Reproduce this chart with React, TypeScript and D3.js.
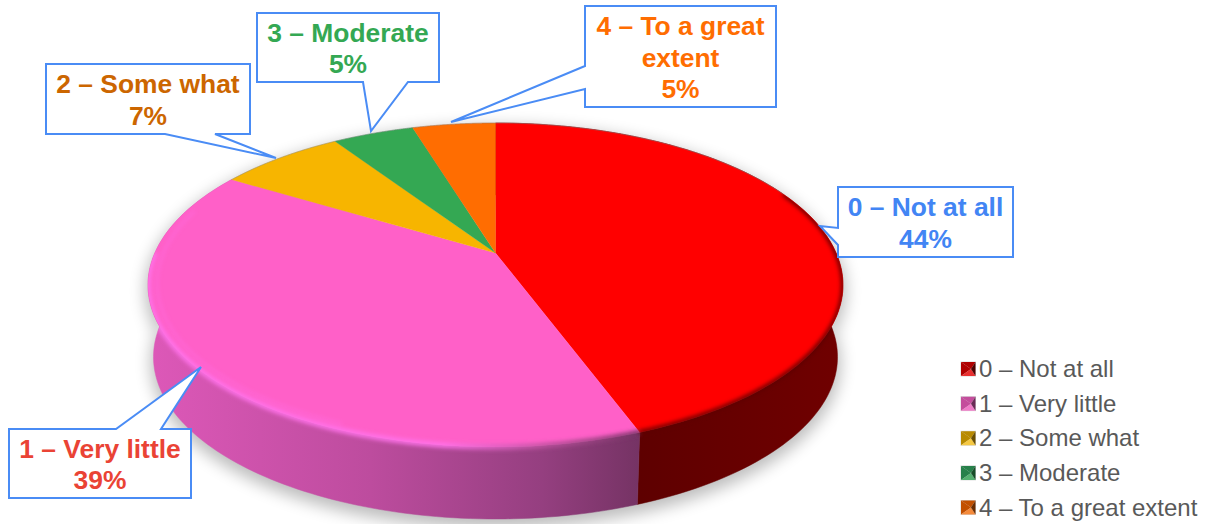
import React from "react";
import * as d3 from "d3";

const categories = ["0 – Not at all", "1 – Very little", "2 – Some what", "3 – Moderate", "4 – To a great extent"];
const values = [44.4, 39.3, 7.05, 4.58, 4.67];
const sliceColors = ["#ff0000", "#ff60c8", "#f7b500", "#34a853", "#ff6d01"];
const swatchLight = ["#e83030", "#f07cc8", "#f5c842", "#55b070", "#f58a3a"];
const swatchDark = ["#4d0000", "#6a2a55", "#6a4e00", "#174d28", "#6a2c00"];
const swatchMid = ["#b00000", "#c44d9c", "#b88a00", "#27804a", "#c25000"];
const calloutLines = [
  ["0 – Not at all", "44%"],
  ["1 – Very little", "39%"],
  ["2 – Some what", "7%"],
  ["3 – Moderate", "5%"],
  ["4 – To a great", "extent", "5%"],
];
const calloutColors = ["#4285f4", "#ea4335", "#cc6600", "#34a853", "#ff6d01"];
const calloutBoxes = [
  [838, 187, 1013, 257],
  [9, 429, 191, 498],
  [46, 64, 250, 134],
  [257, 13, 439, 82],
  [585, 6, 776, 107],
];
const calloutPointers = [
  [[838, 228], [820, 226], [838, 245]],
  [[116, 429], [201, 367], [161, 429]],
  [[215, 134], [276, 158], [165, 134]],
  [[408, 82], [371, 131], [363, 82]],
  [[585, 89], [451, 122], [585, 66]],
];

const W = 1212, H = 524;
const CX = 495.5, CY = 285, RX = 347.5, RY = 162, CENTER_UP = 32, DEPTH = 72, BOTTOM_RX = 342;
const P = (2 * CENTER_UP) / (2 * RY);

// Perspective projection of a point on the pie rim; a is clockwise from the far side.
function rim(a: number, r = 1, rx = RX, dy = 0): [number, number] {
  const u = r * Math.sin(a), v = r * Math.cos(a);
  const d = 1 + P * v;
  const S = rx * Math.sqrt(1 - P * P);
  return [CX + (S * u) / d, CY + dy - (RY * v + CENTER_UP) / d];
}
const arcAngles = (a0: number, a1: number) => d3.range(0, 121).map((i) => a0 + ((a1 - a0) * i) / 120);
const line = d3.line();

const pieGen = d3.pie<number>().sort(null).value((d) => d);
const slices = pieGen(values);

function topPath(a0: number, a1: number) {
  return line([rim(0, 0), ...arcAngles(a0, a1).map((a) => rim(a))]) + "Z";
}
function wallPath(a0: number, a1: number) {
  const ang = arcAngles(a0, a1);
  return line([...ang.map((a) => rim(a)), ...ang.slice().reverse().map((a) => rim(a, 1, BOTTOM_RX, DEPTH))]) + "Z";
}
function rimStroke(a0: number, a1: number, r = 1) {
  return line(arcAngles(a0, a1).map((a) => rim(a, r))) as string;
}

const legendY = d3.scalePoint<string>().domain(categories).range([369, 507.5]);

export default function App() {
  const full = slices[slices.length - 1].endAngle;
  const pink = slices[1];
  const red = slices[0];
  const pinkSpan = pink.endAngle - pink.startAngle;
  return (
    <svg width={W} height={H} viewBox={`0 0 ${W} ${H}`} style={{ position: "absolute", left: 0, top: 0, background: "#fff" }}
      fontFamily="'Liberation Sans', Arial, sans-serif">
      <defs>
        <filter id="shadow" x="-10%" y="-10%" width="120%" height="125%"><feGaussianBlur stdDeviation="8" /></filter>
        <filter id="soft" x="-5%" y="-5%" width="110%" height="110%"><feGaussianBlur stdDeviation="2" /></filter>
        <linearGradient id="wall1" gradientUnits="userSpaceOnUse" x1="150" x2="640" y1="0" y2="0">
          <stop offset="0" stopColor="#dd58b8" />
          <stop offset="0.45" stopColor="#bd4c9e" />
          <stop offset="0.8" stopColor="#953f80" />
          <stop offset="1" stopColor="#753364" />
        </linearGradient>
        <linearGradient id="wall0" gradientUnits="userSpaceOnUse" x1="640" x2="843" y1="0" y2="0">
          <stop offset="0" stopColor="#5e0000" />
          <stop offset="1" stopColor="#700000" />
        </linearGradient>
        <linearGradient id="rimPink" gradientUnits="userSpaceOnUse" x1="150" x2="640" y1="0" y2="0">
          <stop offset="0" stopColor="#ff72ea" />
          <stop offset="0.6" stopColor="#ff72ea" />
          <stop offset="0.8" stopColor="#c052a0" />
          <stop offset="1" stopColor="#753364" />
        </linearGradient>
        <clipPath id="bodyClip">
          <path d={topPath(0, full)} />
          <path d={wallPath(0, full)} />
        </clipPath>
      </defs>

      {/* soft shadow under the pie */}
      <path d={wallPath(0, full)} transform="translate(0 6)" fill="#000" stroke="#000" strokeWidth={6} opacity={0.26} filter="url(#shadow)" />

      {/* walls */}
      {slices.slice(0, 2).map((s, i) => (
        <path key={i} d={wallPath(s.startAngle, s.endAngle)} fill={`url(#wall${i})`} stroke={`url(#wall${i})`} strokeWidth={0.5} />
      ))}

      {/* top face */}
      {slices.map((s, i) => (
        <path key={i} d={topPath(s.startAngle, s.endAngle)} fill={sliceColors[i]} stroke={sliceColors[i]} strokeWidth={0.3} />
      ))}

      {/* soft bevel along the rim */}
      <g clipPath="url(#bodyClip)">
        <path d={rimStroke(pink.startAngle + pinkSpan * 0.3, pink.endAngle - 0.25, 0.975)} fill="none" stroke="#ff72ea" strokeWidth={3} filter="url(#soft)" opacity={0.4} />
        <path d={rimStroke(pink.startAngle, pink.startAngle + pinkSpan * 0.78)} fill="none" stroke="url(#rimPink)" strokeWidth={5} filter="url(#soft)" />
        <path d={rimStroke(1.15, red.endAngle)} fill="none" stroke="#5e0000" strokeWidth={4} filter="url(#soft)" />
      </g>
      <path d={rimStroke(pink.endAngle, Math.PI * 2 + 1.15)} fill="none" stroke="#808080" strokeWidth={0.8} opacity={0.55} />

      {/* callouts */}
      {calloutBoxes.map((b, i) => {
        const [x0, y0, x1, y1] = b;
        const pts = calloutPointers[i] as [number, number][];
        let outline: [number, number][];
        if (i === 0) outline = [[x0, y0], [x1, y0], [x1, y1], [x0, y1], pts[2], pts[1], pts[0]];
        else if (i === 4) outline = [[x0, y0], [x1, y0], [x1, y1], [x0, y1], pts[0], pts[1], pts[2]];
        else if (i === 1) outline = [[x0, y0], pts[0], pts[1], pts[2], [x1, y0], [x1, y1], [x0, y1]];
        else outline = [[x0, y0], [x1, y0], [x1, y1], pts[0], pts[1], pts[2], [x0, y1]];
        const lines = calloutLines[i];
        const mid = (x0 + x1) / 2;
        const lh = 31.5;
        const first = (y0 + y1) / 2 - ((lines.length - 1) * lh) / 2 + 10;
        return (
          <g key={i}>
            <path d={line(outline) + "Z"} fill="#fff" stroke="#4a8cf5" strokeWidth={2} strokeLinejoin="miter" />
            {lines.map((t, j) => (
              <text key={j} x={mid} y={first + j * lh} textAnchor="middle" fontWeight={700} fontSize={26.4} fill={calloutColors[i]}>{t}</text>
            ))}
          </g>
        );
      })}

      {/* legend */}
      {categories.map((c, i) => {
        const y = legendY(c)!;
        const x0 = 961, x1 = 975.5, t = y - 7, b = y + 7, mx = 971, my = y;
        return (
          <g key={c}>
            <rect x={x0 - 0.5} y={t - 0.5} width={15.5} height={15} fill="#d8d8d8" />
            <path d={`M${x0} ${t}L${x1} ${t}L${mx} ${my}Z`} fill={swatchMid[i]} />
            <path d={`M${x0} ${t}L${x0} ${b}L${mx} ${my}Z`} fill={swatchMid[i]} />
            <path d={`M${x0} ${b}L${x1} ${b}L${mx} ${my}Z`} fill={swatchLight[i]} />
            <path d={`M${x1} ${t}L${x1} ${b}L${mx} ${my}Z`} fill={swatchDark[i]} />
            <text x={979} y={y + 8} fontSize={24} fill="#595959">{c}</text>
          </g>
        );
      })}
    </svg>
  );
}
